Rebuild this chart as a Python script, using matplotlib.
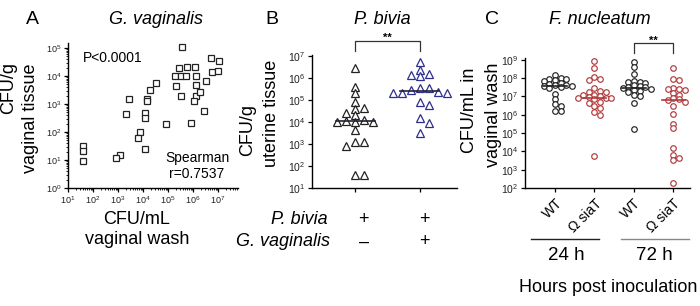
import numpy as np
import matplotlib
matplotlib.use("Agg")
import matplotlib.pyplot as plt
from matplotlib.ticker import LogLocator, NullFormatter
from matplotlib.lines import Line2D

plt.rcParams["font.family"] = ["Liberation Sans", "DejaVu Sans"]

# ---- data (log10 CFU) ----
# A: G. vaginalis, vaginal wash vs vaginal tissue
a_wash_log = [5.56, 5.43, 5.77, 6.07, 5.29, 5.51, 5.71, 6.13, 5.33, 6.13,
              5.53, 6.11, 6.27, 6.04, 6.43, 5.91, 6.53, 6.73, 7.04, 6.76,
              7.00, 4.91, 4.53, 4.27, 4.17, 4.17, 4.09, 4.07, 4.07, 3.89,
              3.80, 3.43, 3.31, 3.09, 2.91, 1.60, 1.60, 1.60]
a_tissue_log = [5.04, 4.29, 4.31, 4.31, 4.01, 4.01, 4.01, 4.01, 3.65, 3.69,
                3.27, 3.30, 3.42, 3.10, 2.74, 2.32, 3.81, 4.64, 4.52, 4.13,
                4.17, 2.30, 3.75, 3.49, 3.19, 3.10, 1.40, 2.68, 2.50, 1.99,
                1.79, 3.19, 2.64, 1.17, 1.07, 1.49, 1.31, 0.95]

# B: P. bivia uterine tissue, without / with G. vaginalis
b_alone_log = [6.45, 5.6, 5.3, 4.9, 4.6, 4.65, 4.3, 4.4, 4.1, 3.98, 4.0, 4.0,
               4.05, 3.63, 3.1, 3.1, 2.9, 1.6, 1.6]
b_coinf_log = [6.72, 6.16, 6.2, 6.36, 6.08, 5.53, 5.3, 5.3, 5.57, 5.46, 5.3,
               5.35, 4.77, 4.9, 4.2, 3.95, 3.5]
b_median_log = [4.07, 5.42]

# C: F. nucleatum vaginal wash
c_wt24_log = [8.15, 8.0, 7.95, 7.95, 7.9, 7.85, 7.75, 7.7, 7.65, 7.6, 7.55,
              7.55, 7.5, 7.45, 7.15, 6.85, 6.6, 6.5, 6.2, 6.2]
c_sia24_log = [8.95, 8.55, 8.05, 7.95, 7.9, 7.45, 7.3, 7.25, 7.25, 7.1, 7.1,
               7.05, 6.95, 6.9, 6.9, 6.9, 6.85, 6.7, 6.65, 6.5, 6.35, 6.15,
               6.0, 3.75]
c_wt72_log = [8.9, 8.6, 8.25, 7.85, 7.8, 7.8, 7.75, 7.6, 7.55, 7.5, 7.5, 7.45,
              7.4, 7.35, 7.3, 7.25, 7.1, 7.05, 6.65, 5.2]
c_sia72_log = [8.55, 7.95, 7.9, 7.45, 7.4, 7.4, 7.35, 7.2, 7.1, 6.9, 6.85,
               6.8, 6.7, 6.5, 6.05, 5.5, 5.25, 4.2, 3.8, 3.65, 3.55, 2.3]
c_median_log = [7.55, 6.92, 7.45, 6.78]
c_labels = ["WT", "\u03a9 siaT", "WT", "\u03a9 siaT"]

RED = "#b0393b"
BLUE = "#2e2e8e"
W, H = 700, 306


def box(l, t, r, b):
    return [l / W, 1 - b / H, (r - l) / W, (b - t) / H]


def fx(x):
    return x / W


def fy(y):
    return 1 - y / H


def swarm(vals, ppd, w, h):
    # simple column swarm in pixel units, returns x offsets in px
    vals = np.asarray(vals)
    offs = np.zeros(len(vals))
    placed = []
    for i in np.argsort(-vals):
        y = vals[i] * ppd
        cands = [0.0]
        for k in range(1, 20):
            cands += [k * w / 2, -k * w / 2]
        for c in cands:
            if all(abs(c - px) >= w - 0.01 or abs(y - py) >= h for px, py in placed):
                break
        placed.append((c, y))
        offs[i] = c
    return offs


def style(ax, fs):
    for s in ["top", "right"]:
        ax.spines[s].set_visible(False)
    for s in ["left", "bottom"]:
        ax.spines[s].set_linewidth(1.0)
    ax.tick_params(which="major", length=3, width=0.9, labelsize=fs, pad=1.5,
                   labelcolor="#222222")
    ax.tick_params(which="minor", length=1.5, width=0.6)


fig = plt.figure(figsize=(7, 3.06), dpi=100)

# ---------------- A ----------------
ax = fig.add_axes(box(68, 43, 238, 188))
ax.plot(10 ** np.array(a_wash_log), 10 ** np.array(a_tissue_log), ls="none",
        marker="s", ms=4.6, mfc="white", mec="#222222", mew=0.9)
ax.set_xscale("log")
ax.set_yscale("log")
ax.set_xlim(10, 10 ** 7.8)
ax.set_ylim(1, 10 ** 5.18)
ax.set_xticks([10 ** k for k in range(1, 8)])
ax.set_yticks([10 ** k for k in range(0, 6)])
ax.xaxis.set_minor_locator(LogLocator(base=10, subs=np.arange(2, 10), numticks=20))
ax.yaxis.set_minor_locator(LogLocator(base=10, subs=np.arange(2, 10), numticks=20))
ax.xaxis.set_minor_formatter(NullFormatter())
ax.yaxis.set_minor_formatter(NullFormatter())
style(ax, 6.5)
ax.text(fx(83), fy(58), "P<0.0001", transform=fig.transFigure, fontsize=10,
        ha="left", va="center")
ax.text(fx(197), fy(166), "Spearman\nr=0.7537", transform=fig.transFigure,
        fontsize=10, ha="center", va="center", linespacing=1.15)

fig.text(fx(32), fy(20), "A", fontsize=14, ha="center", va="center")
fig.text(fx(156), fy(20), "G. vaginalis", fontsize=13, style="italic",
         ha="center", va="center")
fig.text(fx(8.5), fy(88), "CFU/g", fontsize=13, rotation=90, ha="center", va="center")
fig.text(fx(31), fy(118), "vaginal tissue", fontsize=13, rotation=90,
         ha="center", va="center")
fig.text(fx(137), fy(220), "CFU/mL", fontsize=13, ha="center", va="center")
fig.text(fx(137), fy(240), "vaginal wash", fontsize=13, ha="center", va="center")

# ---------------- B ----------------
ax = fig.add_axes(box(312, 55, 457, 188))
ax.set_yscale("log")
ax.set_ylim(10, 10 ** 7.05)
ax.set_xlim(0.33, 2.58)
ppd_b = 133 / 6.05
ppx_b = 145 / 2.25
for k, (vals, col) in enumerate([(b_alone_log, "#222222"), (b_coinf_log, BLUE)]):
    off = swarm(vals, ppd_b, 9.0, 6.0) / ppx_b
    ax.plot(k + 1 + off, 10 ** np.array(vals), ls="none", marker="^", ms=5.2,
            mfc="white", mec=col, mew=0.9, clip_on=False)
    ax.plot([k + 1 - 0.3, k + 1 + 0.3], [10 ** b_median_log[k]] * 2,
            color="#222233", lw=1.2)
ax.set_xticks([1, 2])
ax.set_xticklabels(["", ""])
ax.set_yticks([10 ** k for k in range(1, 8)])
ax.yaxis.set_minor_locator(plt.NullLocator())
style(ax, 7.5)
ax.plot([1, 1, 2, 2], [10 ** 7.25, 10 ** 7.7, 10 ** 7.7, 10 ** 7.25], color="#333333",
        lw=0.9, clip_on=False)
ax.text(1.5, 10 ** 7.82, "**", ha="center", va="center", fontsize=8,
        fontweight="bold")

fig.text(fx(272), fy(20), "B", fontsize=14, ha="center", va="center")
fig.text(fx(382), fy(20), "P. bivia", fontsize=13, style="italic",
         ha="center", va="center")
fig.text(fx(248), fy(130), "CFU/g", fontsize=13, rotation=90, ha="center", va="center")
fig.text(fx(271), fy(113), "uterine tissue", fontsize=13, rotation=90,
         ha="center", va="center")
fig.text(fx(328), fy(220), "P. bivia", fontsize=13, style="italic", ha="right",
         va="center")
fig.text(fx(330), fy(242), "G. vaginalis", fontsize=13, style="italic", ha="right",
         va="center")
for xx, yy, s in [(363, 220, "+"), (424, 220, "+"), (364, 242, "\u2013"),
                  (424, 242, "+")]:
    fig.text(fx(xx), fy(yy), s, fontsize=13, ha="center", va="center")

# ---------------- C ----------------
ax = fig.add_axes(box(525, 58, 690, 188))
ax.set_yscale("log")
ax.set_ylim(100, 10 ** 9.1)
ax.set_xlim(0.24, 4.42)
ppd_c = 130 / 7.1
ppx_c = 165 / 4.18
groups = [(c_wt24_log, "#222222"), (c_sia24_log, RED), (c_wt72_log, "#222222"),
          (c_sia72_log, RED)]
for k, (vals, col) in enumerate(groups):
    off = swarm(vals, ppd_c, 5.6, 4.4) / ppx_c
    ax.plot(k + 1 + off, 10 ** np.array(vals), ls="none", marker="o", ms=4.0,
            mfc="white", mec=col, mew=0.85, clip_on=False)
    ax.plot([k + 1 - 0.3, k + 1 + 0.3], [10 ** c_median_log[k]] * 2, color=col,
            lw=1.2)
ax.set_xticks([1, 2, 3, 4])
ax.set_xticklabels(c_labels, rotation=45, ha="right", va="top",
                   rotation_mode="anchor", fontsize=10)
ax.set_yticks([10 ** k for k in range(2, 10)])
ax.yaxis.set_minor_locator(plt.NullLocator())
style(ax, 7.5)
ax.tick_params(axis="x", labelsize=10, labelcolor="black", pad=3)
ax.plot([3, 3, 4, 4], [10 ** 9.35, 10 ** 9.9, 10 ** 9.9, 10 ** 9.35], color="#333333",
        lw=0.9, clip_on=False)
ax.text(3.5, 10 ** 10.05, "**", ha="center", va="center", fontsize=8,
        fontweight="bold")

fig.text(fx(492), fy(20), "C", fontsize=14, ha="center", va="center")
fig.text(fx(600), fy(20), "F. nucleatum", fontsize=13, style="italic",
         ha="center", va="center")
fig.text(fx(470), fy(110), "CFU/mL in", fontsize=13, rotation=90, ha="center",
         va="center")
fig.text(fx(493), fy(115), "vaginal wash", fontsize=13, rotation=90, ha="center",
         va="center")
fig.add_artist(Line2D([fx(531), fx(599)], [fy(239), fy(239)], color="#222222", lw=1.0))
fig.add_artist(Line2D([fx(621), fx(689)], [fy(239), fy(239)], color="#888888", lw=1.0))
fig.text(fx(566), fy(255), "24 h", fontsize=13.5, ha="center", va="center")
fig.text(fx(654), fy(255), "72 h", fontsize=13.5, ha="center", va="center")
fig.text(fx(608), fy(287), "Hours post inoculation", fontsize=13, ha="center",
         va="center")

fig.savefig("out.png", dpi=100)
